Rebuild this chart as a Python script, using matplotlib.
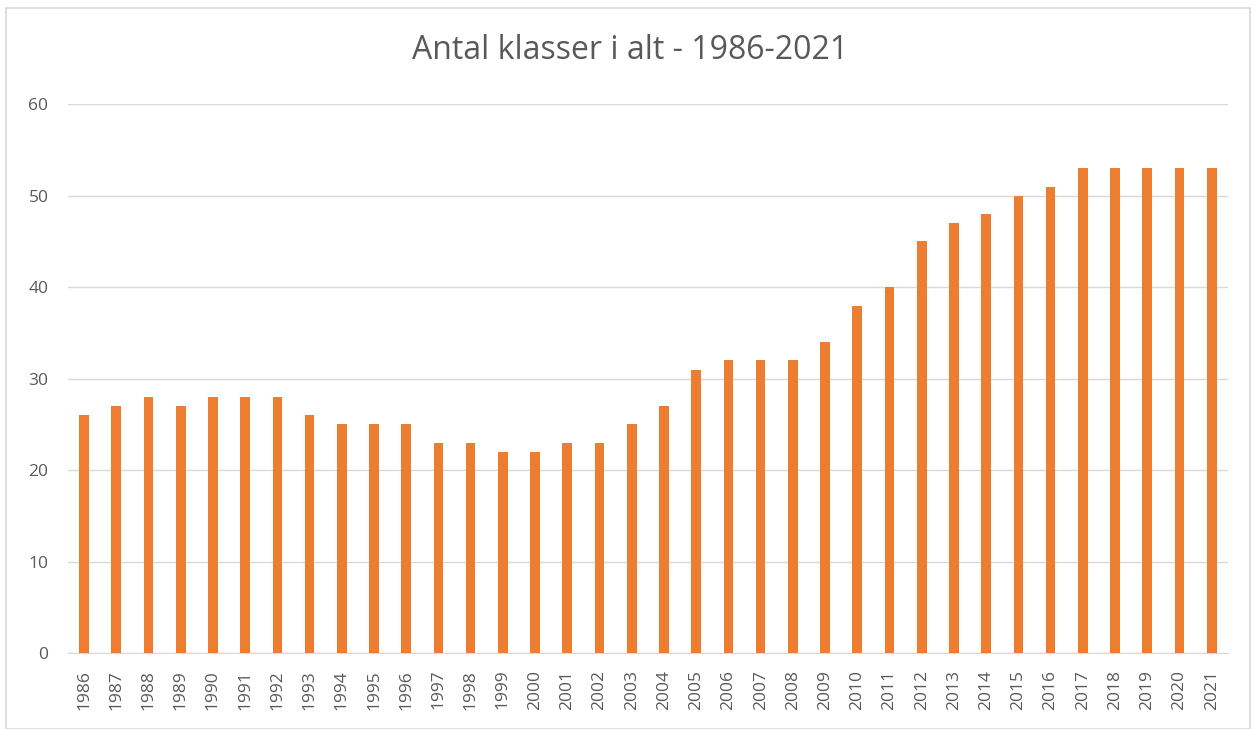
import matplotlib.pyplot as plt
from matplotlib.patches import Rectangle

# ################## Data
years = [str(y) for y in range(1986, 2022)]
classes = [26, 27, 28, 27, 28, 28, 28, 26, 25, 25, 25, 23, 23, 22, 22, 23, 23,
           25, 27, 31, 32, 32, 32, 34, 38, 40, 45, 47, 48, 50, 51, 53, 53, 53, 53, 53]
yticks = [0, 10, 20, 30, 40, 50, 60]

bar_color = '#ED7D31'
text_color = '#595959'
grid_color = '#D9D9D9'

plt.rcParams['font.family'] = ['Open Sans', 'DejaVu Sans']

fig = plt.figure(figsize=(12.58, 7.29), dpi=100)
# outer chart frame
fig.patches.append(Rectangle((6 / 1258, 0.0), 1244 / 1258, 1 - 8 / 729,
                             transform=fig.transFigure, fill=False,
                             edgecolor='#D9D9D9', linewidth=1.2))

ax = fig.add_axes([0.054, 0.104, 0.922, 0.753])
x = list(range(len(years)))
ax.bar(x, classes, width=0.3, color=bar_color, zorder=3)

ax.set_xlim(-0.5, len(years) - 0.5)
ax.set_ylim(0, 60)
ax.set_yticks(yticks)
ax.set_xticks(x)
ax.set_xticklabels(years, rotation=90)
ax.tick_params(axis='both', length=0, colors=text_color, labelsize=12.5)
ax.tick_params(axis='y', pad=14)
ax.tick_params(axis='x', pad=12)
ax.grid(axis='y', color=grid_color, linewidth=1, zorder=0)
for s in ['top', 'right', 'left']:
    ax.spines[s].set_visible(False)
ax.spines['bottom'].set_color(grid_color)

fig.text(0.501, 0.931, 'Antal klasser i alt - 1986-2021', ha='center', va='center',
         fontsize=23, color=text_color)

fig.savefig('out.png', dpi=100)
